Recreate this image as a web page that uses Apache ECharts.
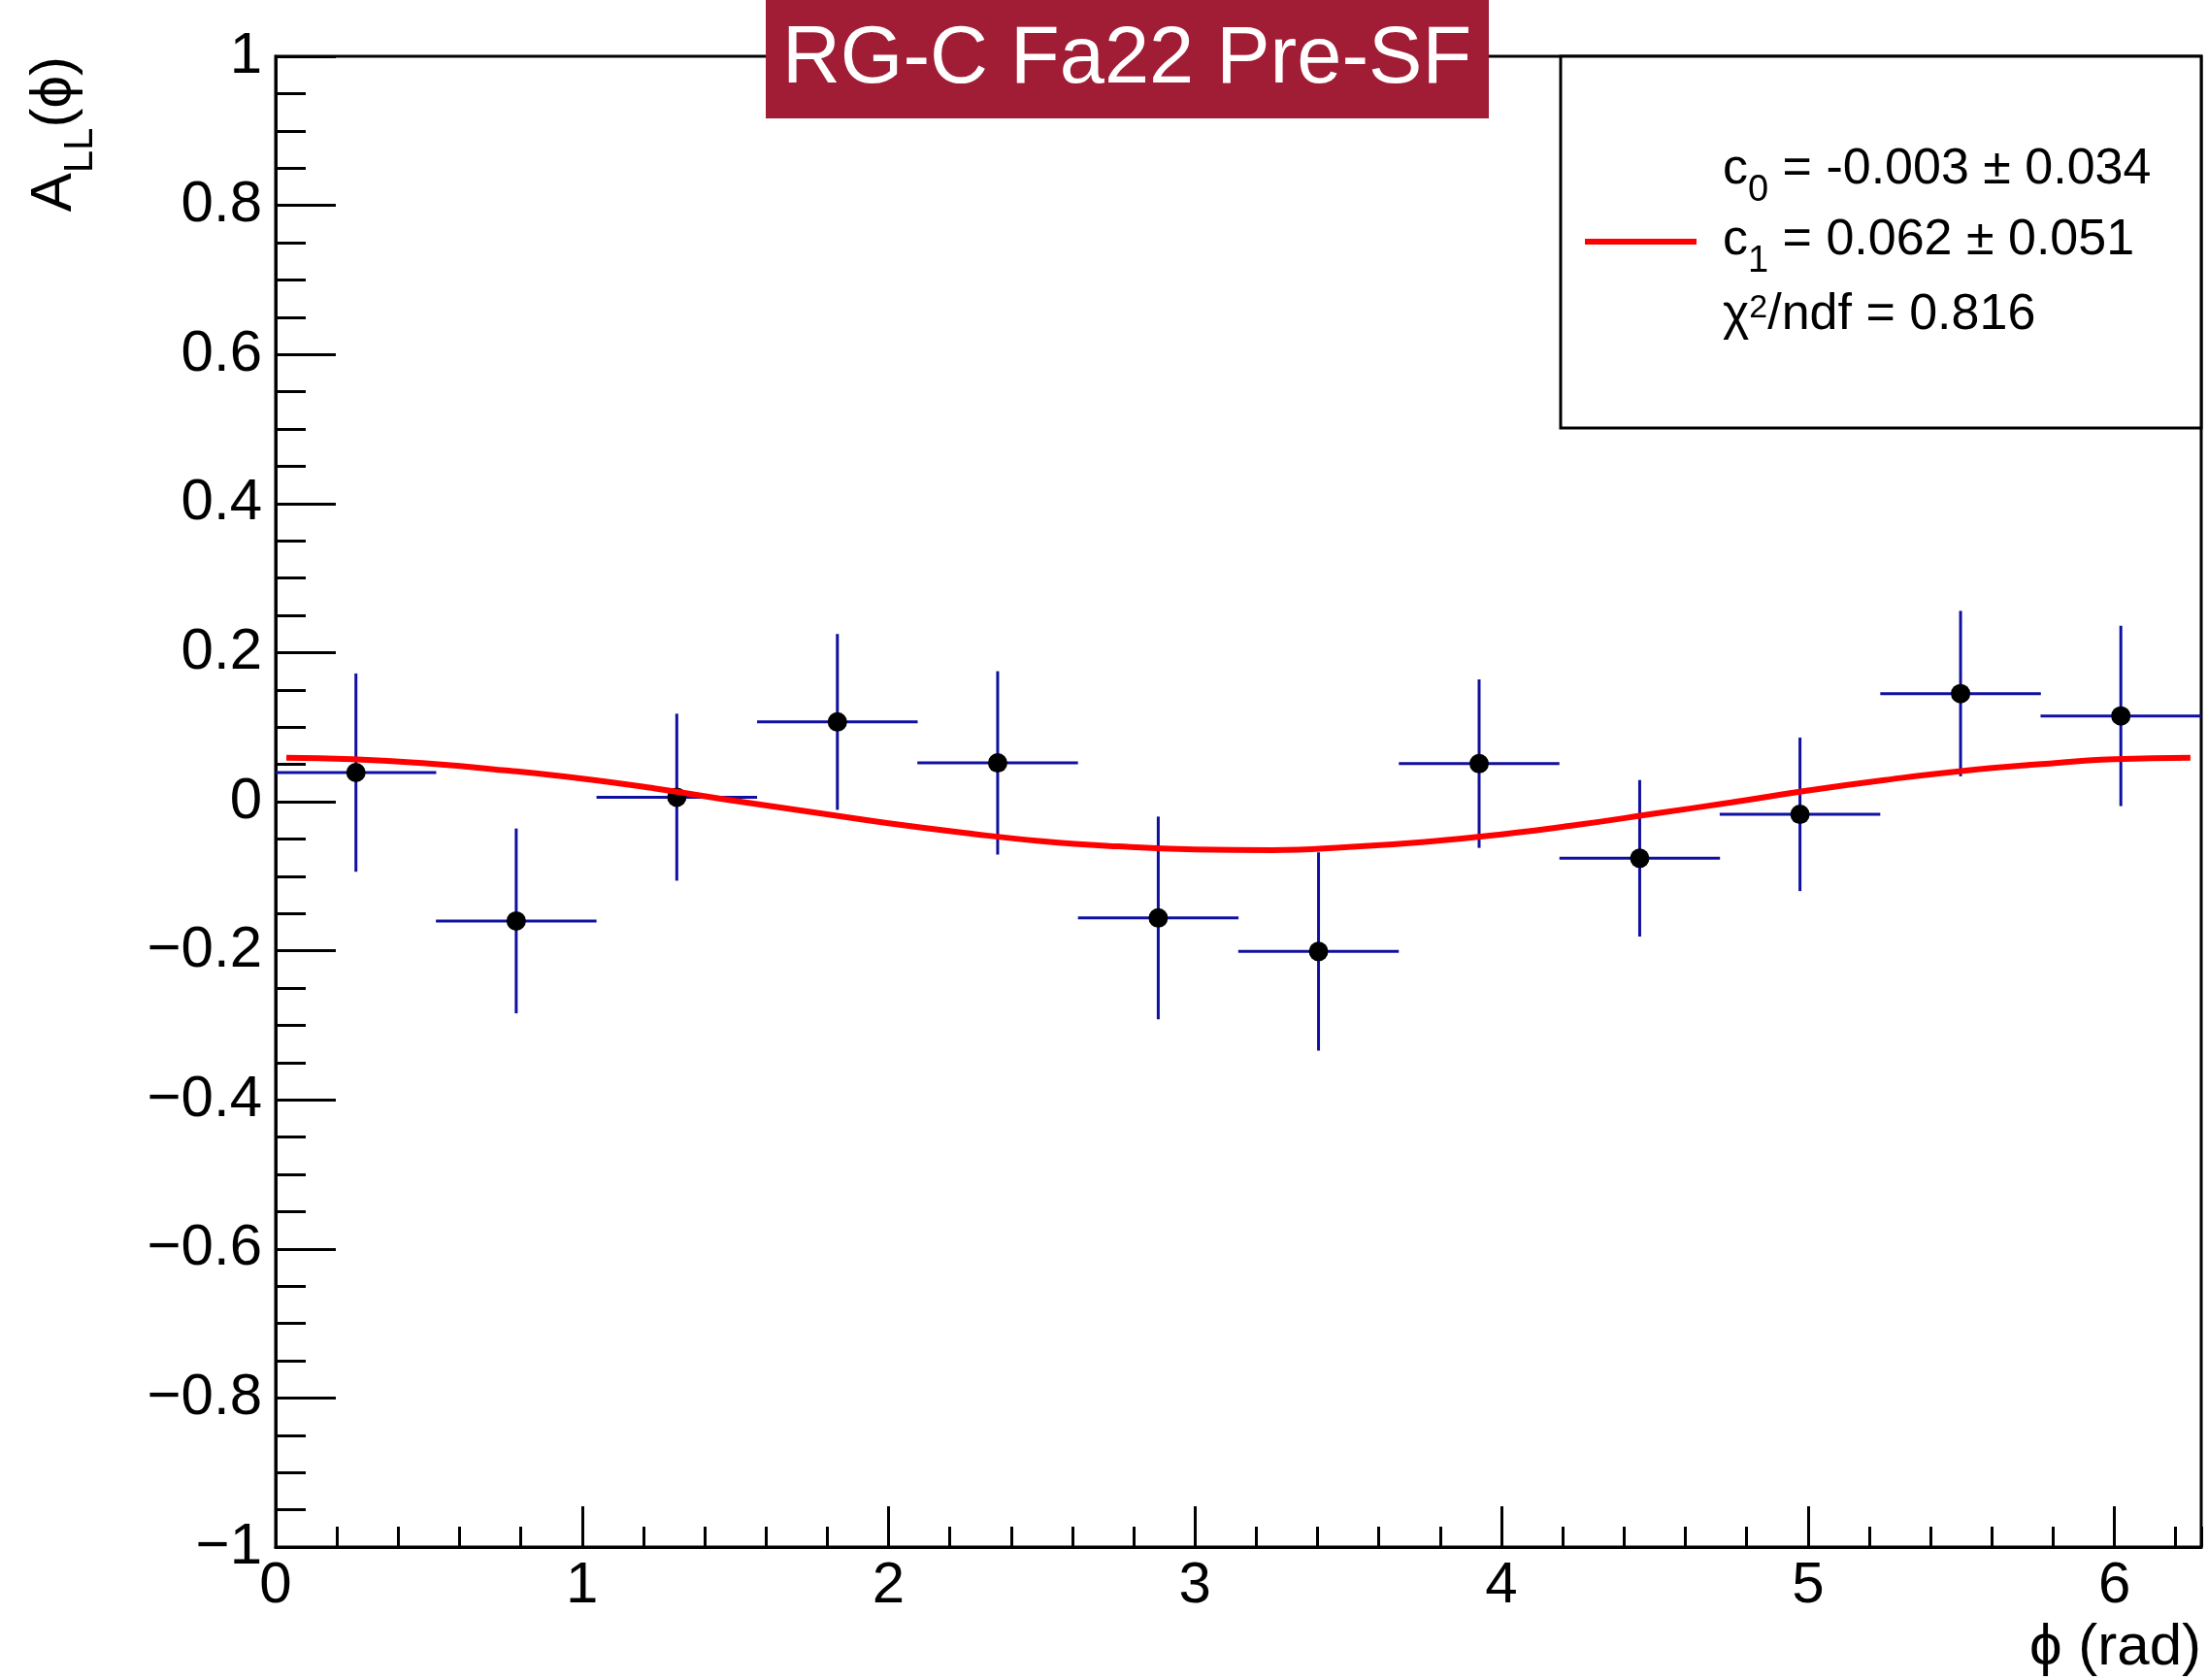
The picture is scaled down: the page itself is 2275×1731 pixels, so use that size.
<!DOCTYPE html>
<html>
<head>
<meta charset="utf-8">
<script src="https://cdn.jsdelivr.net/npm/echarts@6/dist/echarts.min.js"></script>
<style>
html,body{margin:0;padding:0;background:#fff;}
#chart{width:2275px;height:1731px;}
</style>
</head>
<body>
<div id="chart"></div>
<script>
// ---- data ----
const phiCenters = [0.262, 0.785, 1.309, 1.833, 2.356, 2.880, 3.403, 3.927, 4.451, 4.974, 5.498, 6.021];
const binHalfWidth = 0.262;
const allValues = [0.039, -0.160, 0.006, 0.107, 0.052, -0.156, -0.201, 0.051, -0.076, -0.017, 0.145, 0.115];
const allErrors = [0.133, 0.124, 0.112, 0.118, 0.123, 0.136, 0.133, 0.113, 0.105, 0.103, 0.111, 0.121];
const fitPhi = [0.035, 0.25, 0.5, 0.75, 1.0, 1.25, 1.5, 1.75, 2.0, 2.25, 2.5, 2.75, 3.0, 3.25, 3.5, 3.75, 4.0, 4.25, 4.5, 4.75, 5.0, 5.25, 5.5, 5.75, 6.0, 6.248];
const fitValues = [0.059, 0.057, 0.051, 0.042, 0.031, 0.017, 0.001, -0.014, -0.029, -0.042, -0.053, -0.060, -0.064, -0.065, -0.061, -0.054, -0.044, -0.031, -0.016, -0.001, 0.015, 0.029, 0.041, 0.050, 0.057, 0.059];
const xTickLabels = ['0', '1', '2', '3', '4', '5', '6'];
const titleText = 'RG-C Fa22 Pre-SF';
const legendLines = ['c{s|0} = -0.003 ± 0.034', 'c{s|1} = 0.062 ± 0.051', 'χ{p|2}/ndf = 0.816'];
const xAxisTitle = 'ϕ (rad)';
const yAxisTitle = 'A{s|LL}(ϕ)';

const FONT = '"Liberation Sans", Arial, Helvetica, sans-serif';
const BLUE = '#1010a0';
const X_MAX = 6.2832;

const chart = echarts.init(document.getElementById('chart'), null, {renderer: 'canvas'});

function yFmt(v) {
  const r = Math.round(v * 10) / 10;
  if (Math.abs(r) < 1e-9) return '0';
  const s = String(Math.abs(r));
  return (r < 0 ? '\u2212' : '') + s;
}
function xFmt(v) {
  const r = Math.round(v);
  if (Math.abs(v - r) < 1e-6 && r >= 0 && r < xTickLabels.length) return xTickLabels[r];
  return '';
}

const option = {
  backgroundColor: '#fff',
  animation: false,
  grid: {left: 284, right: 7, top: 58, bottom: 137, show: true, borderColor: '#000', borderWidth: 3, backgroundColor: 'transparent'},
  xAxis: [{
    type: 'value', min: 0, max: X_MAX, interval: 1,
    axisLine: {show: true, onZero: false, lineStyle: {color: '#000', width: 3}},
    axisTick: {show: true, inside: true, length: 42, lineStyle: {color: '#000', width: 3}},
    axisLabel: {show: true, formatter: xFmt, color: '#000', fontSize: 60, fontFamily: FONT, margin: 10, showMaxLabel: false},
    splitLine: {show: false}
  }, {
    type: 'value', min: 0, max: X_MAX, interval: 0.2, position: 'bottom',
    axisLine: {show: false, onZero: false},
    axisTick: {show: true, inside: true, length: 21, lineStyle: {color: '#000', width: 3}},
    axisLabel: {show: false},
    splitLine: {show: false}
  }],
  yAxis: {
    type: 'value', min: -1, max: 1, interval: 0.2,
    axisLine: {show: true, onZero: false, lineStyle: {color: '#000', width: 3}},
    axisTick: {show: true, inside: true, length: 62, lineStyle: {color: '#000', width: 3}},
    minorTick: {show: true, splitNumber: 4, length: 31, lineStyle: {color: '#000', width: 3}},
    axisLabel: {show: true, formatter: yFmt, color: '#000', fontSize: 60, fontFamily: FONT, margin: 14},
    splitLine: {show: false}, minorSplitLine: {show: false}
  },
  series: [{
    type: 'custom',
    xAxisIndex: 0,
    z: 2,
    data: phiCenters.map((p, i) => [p, allValues[i], allErrors[i]]),
    encode: {x: 0, y: 1},
    renderItem: function (params, api) {
      const x = api.value(0), y = api.value(1), e = api.value(2);
      const l = api.coord([x - binHalfWidth, y]);
      const r = api.coord([x + binHalfWidth, y]);
      const t = api.coord([x, y + e]);
      const b = api.coord([x, y - e]);
      return {type: 'group', children: [
        {type: 'line', shape: {x1: l[0], y1: l[1], x2: r[0], y2: r[1]}, style: {stroke: BLUE, lineWidth: 3}},
        {type: 'line', shape: {x1: t[0], y1: t[1], x2: b[0], y2: b[1]}, style: {stroke: BLUE, lineWidth: 3}}
      ]};
    }
  }, {
    type: 'scatter',
    xAxisIndex: 0,
    z: 3,
    symbol: 'circle',
    symbolSize: 20,
    itemStyle: {color: '#000', opacity: 1},
    data: phiCenters.map((p, i) => [p, allValues[i]])
  }, {
    type: 'line',
    xAxisIndex: 0,
    z: 4,
    smooth: true,
    showSymbol: false,
    symbol: 'none',
    lineStyle: {color: '#ff0000', width: 6},
    data: fitPhi.map((p, i) => [p, fitValues[i]])
  }],
  graphic: [
    // title box
    {type: 'rect', z: 100, shape: {x: 789, y: 0, width: 745, height: 122}, style: {fill: '#A11D36'}},
    {type: 'text', z: 101, x: 1161, y: 62, style: {text: titleText, fill: '#fff', fontSize: 83, fontFamily: FONT, textAlign: 'center', textVerticalAlign: 'middle'}},
    // legend box
    {type: 'rect', z: 100, shape: {x: 1608, y: 58, width: 660, height: 383}, style: {fill: '#fff', stroke: '#000', lineWidth: 3}},
    {type: 'line', z: 101, shape: {x1: 1633, y1: 249, x2: 1748, y2: 249}, style: {stroke: '#ff0000', lineWidth: 6}},
    {type: 'text', z: 101, x: 1775, y: 175, style: {text: legendLines[0], fill: '#000', fontSize: 52, fontFamily: FONT, lineHeight: 60, textAlign: 'left', textVerticalAlign: 'middle',
      rich: {s: {fontSize: 38, fontFamily: FONT, verticalAlign: 'top', padding: [33, 0, 0, 0]}}}},
    {type: 'text', z: 101, x: 1775, y: 248, style: {text: legendLines[1], fill: '#000', fontSize: 52, fontFamily: FONT, lineHeight: 60, textAlign: 'left', textVerticalAlign: 'middle',
      rich: {s: {fontSize: 38, fontFamily: FONT, verticalAlign: 'top', padding: [33, 0, 0, 0]}}}},
    {type: 'text', z: 101, x: 1775, y: 325, style: {text: legendLines[2], fill: '#000', fontSize: 52, fontFamily: FONT, lineHeight: 60, textAlign: 'left', textVerticalAlign: 'middle',
      rich: {p: {fontSize: 34, fontFamily: FONT, verticalAlign: 'top', padding: [6, 0, 0, 0]}}}},
    // axis titles
    {type: 'text', z: 101, x: 2268, y: 1698, style: {text: xAxisTitle, fill: '#000', fontSize: 60, fontFamily: FONT, textAlign: 'right', textVerticalAlign: 'middle'}},
    {type: 'text', z: 101, x: 56, y: 58, rotation: Math.PI / 2, style: {text: yAxisTitle, fill: '#000', fontSize: 60, fontFamily: FONT, lineHeight: 60, textAlign: 'right', textVerticalAlign: 'middle',
      rich: {s: {fontSize: 42, fontFamily: FONT, verticalAlign: 'top', padding: [36, 0, 0, 0]}}}}
  ]
};
chart.setOption(option);
</script>
</body>
</html>
